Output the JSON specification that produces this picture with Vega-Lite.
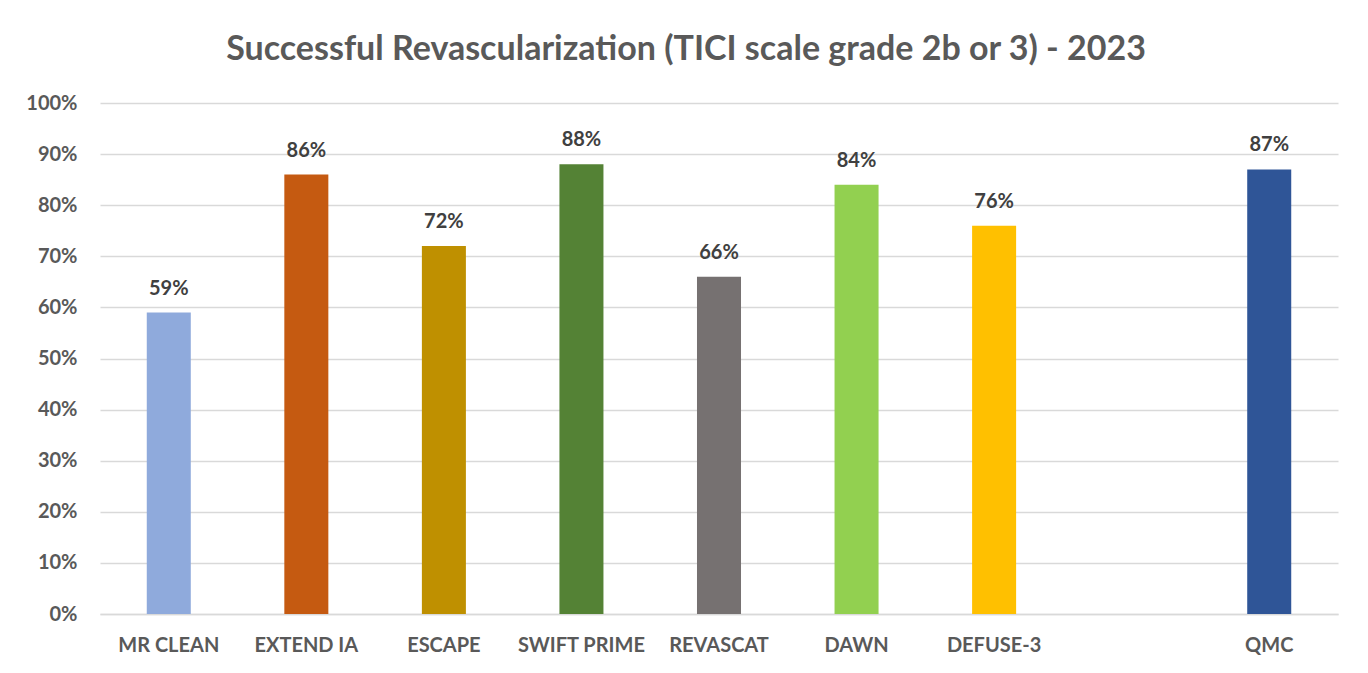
{
  "$schema": "https://vega.github.io/schema/vega-lite/v6.json",
  "width": 1238,
  "height": 511,
  "autosize": {"type": "none"},
  "padding": {"left": 100, "top": 103, "right": 30, "bottom": 59},
  "background": "white",
  "title": {
    "text": "Successful Revascularization (TICI scale grade 2b or 3) - 2023",
    "font": "Lato",
    "fontSize": 34,
    "fontWeight": "bold",
    "color": "#595959",
    "anchor": "middle",
    "dx": -33,
    "offset": 26
  },
  "data": {
    "values": [
      {"trial": "MR CLEAN", "rate": 0.59},
      {"trial": "EXTEND IA", "rate": 0.86},
      {"trial": "ESCAPE", "rate": 0.72},
      {"trial": "SWIFT PRIME", "rate": 0.88},
      {"trial": "REVASCAT", "rate": 0.66},
      {"trial": "DAWN", "rate": 0.84},
      {"trial": "DEFUSE-3", "rate": 0.76},
      {"trial": "QMC", "rate": 0.87}
    ]
  },
  "encoding": {
    "x": {
      "field": "trial",
      "type": "nominal",
      "sort": null,
      "scale": {"domain": ["MR CLEAN", "EXTEND IA", "ESCAPE", "SWIFT PRIME", "REVASCAT", "DAWN", "DEFUSE-3", " ", "QMC"], "paddingInner": 0.68, "paddingOuter": 0.34},
      "axis": {
        "title": null,
        "labelAngle": 0,
        "labelFont": "Lato",
        "labelFontSize": 20,
        "labelFontWeight": "bold",
        "labelColor": "#595959",
        "labelPadding": 21,
        "ticks": false,
        "domainColor": "#D9D9D9",
        "domainWidth": 1.5,
        "grid": false
      }
    },
    "y": {
      "field": "rate",
      "type": "quantitative",
      "scale": {"domain": [0, 1]},
      "axis": {
        "title": null,
        "format": ".0%",
        "values": [0, 0.1, 0.2, 0.3, 0.4, 0.5, 0.6, 0.7, 0.8, 0.9, 1],
        "labelFont": "Lato",
        "labelFontSize": 20,
        "labelFontWeight": "bold",
        "labelColor": "#595959",
        "labelPadding": 23,
        "ticks": false,
        "domain": false,
        "gridColor": "#D9D9D9",
        "gridWidth": 1.5
      }
    }
  },
  "layer": [
    {
      "mark": {"type": "bar"},
      "encoding": {
        "color": {
          "field": "trial",
          "type": "nominal",
          "legend": null,
          "scale": {
            "domain": ["MR CLEAN", "EXTEND IA", "ESCAPE", "SWIFT PRIME", "REVASCAT", "DAWN", "DEFUSE-3", "QMC"],
            "range": ["#8FAADC", "#C55A11", "#BF9000", "#548235", "#767171", "#92D050", "#FFC000", "#2F5597"]
          }
        }
      }
    },
    {
      "mark": {"type": "text", "baseline": "bottom", "dy": -14, "font": "Lato", "fontSize": 20, "fontWeight": "bold", "color": "#404040"},
      "encoding": {
        "text": {"field": "rate", "type": "quantitative", "format": ".0%"}
      }
    }
  ],
  "config": {"view": {"stroke": null}}
}
